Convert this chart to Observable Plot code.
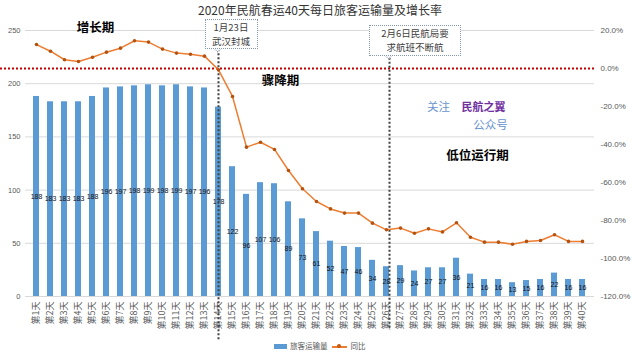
<!DOCTYPE html>
<html><head><meta charset="utf-8">
<script src="https://cdn.jsdelivr.net/npm/d3@7"></script>
<script src="https://cdn.jsdelivr.net/npm/@observablehq/plot@0.6"></script>
<style>
body{margin:0;background:#fff;font-family:"Noto Sans CJK SC",sans-serif;}
#wrap{position:relative;width:640px;height:360px;overflow:hidden;background:#fff;}
#wrap svg{position:absolute;left:0;top:0;}
.abs{position:absolute;white-space:nowrap;}
.title{left:0;width:640px;top:2px;text-align:center;font-size:12px;color:#333;line-height:16px;}
.callout{border:1.5px dotted #8497b0;background:#fff;text-align:center;font-size:9.5px;line-height:14px;color:#404040;box-sizing:border-box;padding-top:0px;}
.tail{width:6px;height:6px;background:#fff;border-right:1.5px dotted #8497b0;border-bottom:1.5px dotted #8497b0;transform:rotate(45deg);}
.leg{font-size:7.5px;color:#595959;line-height:10px;}
</style></head><body><div id="wrap"></div>
<script>
const days = ["第1天","第2天","第3天","第4天","第5天","第6天","第7天","第8天","第9天","第10天",
"第11天","第12天","第13天","第14天","第15天","第16天","第17天","第18天","第19天","第20天",
"第21天","第22天","第23天","第24天","第25天","第26天","第27天","第28天","第29天","第30天",
"第31天","第32天","第33天","第34天","第35天","第36天","第37天","第38天","第39天","第40天"];
const passengers = [188,183,183,183,188,196,197,198,199,198,199,197,196,178,122,96,107,106,89,73,
61,52,47,46,34,28,29,24,27,27,36,21,16,16,13,15,16,22,16,16];
const yoy = [12.6,9.1,4.6,3.7,5.9,8.6,10.7,14.6,13.9,10.2,8.1,7.5,6.5,-0.7,-14.7,-41.4,-38.8,-42.6,-53.7,-63.3,
-70.0,-73.9,-76.1,-76.1,-81.4,-84.9,-84.0,-86.7,-84.4,-86.0,-81.2,-88.8,-91.4,-91.4,-92.5,-91.0,-90.5,-87.5,-91.0,-91.0];
const leftTicks = [0,50,100,150,200,250];
const rightTicks = [20,0,-20,-40,-60,-80,-100,-120];
const seriesNames = ["旅客运输量","同比"];
const titleText = "2020年民航春运40天每日旅客运输量及增长率";
const events = [{day:"第14天", lines:["1月23日","武汉封城"]},{day:"第26天", lines:["2月6日民航局要","求航班不断航"]}];

const toLeft = p => (p + 120) / 140 * 250;
const fromLeft = v => v / 250 * 140 - 120;
const data = days.map((d,i)=>({day:d, v:passengers[i], p:yoy[i]}));
const CJK = '"Noto Sans CJK SC",sans-serif';
const NUM = '"Liberation Sans","Noto Sans CJK SC",sans-serif';

const chart = Plot.plot({
  width:640, height:360, marginLeft:25, marginRight:46, marginTop:30, marginBottom:64,
  style:{fontFamily:NUM, fontSize:"8px", color:"#595959", background:"transparent", overflow:"visible"},
  x:{type:"band", domain:days, paddingInner:0.55, paddingOuter:0.275},
  y:{domain:[0,250]},
  marks:[
    Plot.ruleY(leftTicks,{stroke:"#d9d9d9", strokeWidth:1}),
    Plot.axisY({anchor:"left", ticks:leftTicks, tickSize:0, tickPadding:5, label:null, fontSize:7.5}),
    Plot.axisY({anchor:"right", ticks:rightTicks.map(toLeft), tickSize:0, tickPadding:6, label:null, fontSize:8,
      tickFormat: v => `${Math.round(fromLeft(v)).toFixed(1)}%`}),
    Plot.axisX({anchor:"bottom", tickRotate:-90, tickSize:0, tickPadding:5, label:null, fontSize:9, fontFamily:CJK, fill:"#595959"}),
    Plot.barY(data,{x:"day", y:"v", fill:"#5B9BD5"}),
    Plot.text(data,{x:"day", y:d=>d.v/2, text:d=>String(d.v), fontSize:7, fill:"#111"}),
    Plot.ruleY([toLeft(0)],{stroke:"#C00000", strokeWidth:2, strokeDasharray:"2,2", insetLeft:-25}),
    Plot.ruleX([events[0].day],{y1:232, y2:-41, stroke:"#404040", strokeWidth:2, strokeDasharray:"2,2"}),
    Plot.ruleX([events[1].day],{y1:224, y2:-32, dx:3, stroke:"#404040", strokeWidth:2, strokeDasharray:"2,2"}),
    Plot.line(data,{x:"day", y:d=>toLeft(d.p), stroke:"#ED7D31", strokeWidth:1.5}),
    Plot.dot(data,{x:"day", y:d=>toLeft(d.p), r:1.8, fill:"#B4520F"}),
    Plot.text(["增长期"],{x:()=>"第5天", y:()=>252, dx:3, text:d=>d, fontSize:12.5, fontWeight:"bold", fill:"#000", fontFamily:CJK}),
    Plot.text(["骤降期"],{x:()=>"第18天", y:()=>203, dx:6, text:d=>d, fontSize:12.5, fontWeight:"bold", fill:"#000", fontFamily:CJK}),
    Plot.text(["低位运行期"],{x:()=>"第32天", y:()=>132.5, dx:7, text:d=>d, fontSize:12.5, fontWeight:"bold", fill:"#000", fontFamily:CJK}),
    Plot.text(["关注"],{x:()=>"第30天", y:()=>177.5, dx:-4, text:d=>d, fontSize:11.5, fill:"#6A94CF", fontFamily:CJK}),
    Plot.text(["民航之翼"],{x:()=>"第33天", y:()=>177.5, dx:-1, text:d=>d, fontSize:11, fontWeight:"bold", fill:"#7030A0", fontFamily:CJK}),
    Plot.text(["公众号"],{x:()=>"第33天", y:()=>160.5, dx:6, text:d=>d, fontSize:11.5, fill:"#6A94CF", fontFamily:CJK})
  ]
});

const wrap = document.getElementById("wrap");
wrap.appendChild(chart);

const t = document.createElement("div");
t.className = "abs title"; t.textContent = titleText; wrap.appendChild(t);

const xs = chart.scale("x");
const cx = d => xs.apply(d) + xs.bandwidth/2;
const boxes = [{w:53, h:30, top:19, off:13, lx:0},{w:92, h:31, top:25, off:26, lx:3}];
events.forEach((e,i)=>{
  const b = boxes[i];
  const lineX = cx(e.day) + b.lx;
  const box = document.createElement("div");
  box.className = "abs callout";
  box.style.left = (lineX + b.off - b.w/2) + "px";
  box.style.top = b.top + "px";
  box.style.width = b.w + "px";
  box.style.height = b.h + "px";
  box.innerHTML = e.lines.join("<br>");
  const tail = document.createElement("div");
  tail.className = "abs tail";
  tail.style.left = (lineX - 4) + "px";
  tail.style.top = (b.top + b.h - 5) + "px";
  wrap.appendChild(tail);
  wrap.appendChild(box);
});

const leg = document.createElement("div");
leg.className = "abs leg";
leg.style.left = "274px"; leg.style.top = "341px";
leg.innerHTML = `<span style="display:inline-block;width:13px;height:5px;background:#5B9BD5;vertical-align:middle;margin-right:3px"></span>${seriesNames[0]}`+
`<span style="display:inline-block;position:relative;width:15px;height:2px;background:#ED7D31;vertical-align:middle;margin:0 4px 0 4px"><span style="position:absolute;left:5.5px;top:-1.5px;width:4px;height:4px;border-radius:50%;background:#C55A11"></span></span>${seriesNames[1]}`;
wrap.appendChild(leg);
</script></body></html>
